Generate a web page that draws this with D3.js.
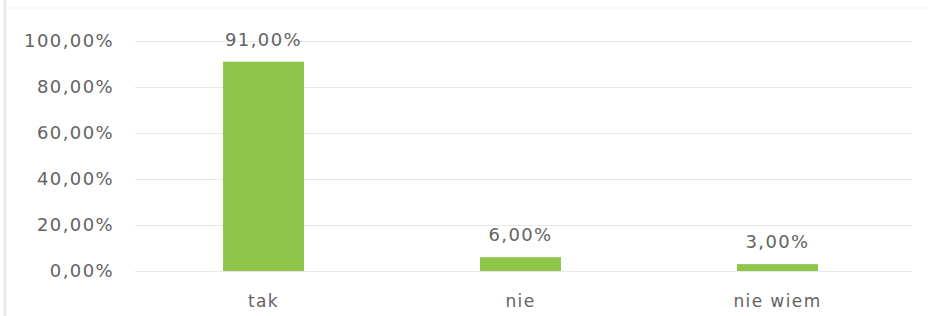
<!DOCTYPE html>
<html>
<head>
<meta charset="utf-8">
<script src="https://cdn.jsdelivr.net/npm/d3@7"></script>
<style>
  body { margin: 0; background: #fff; }
  svg text { font-family: "DejaVu Sans", sans-serif; fill: #636363; letter-spacing: 1.4px; }
</style>
</head>
<body>
<svg width="928" height="316"></svg>
<script>
// Chart data
const categories = ["tak", "nie", "nie wiem"];
const values = [91, 6, 3];
const tickValues = [0, 20, 40, 60, 80, 100];

const fmt = v => d3.format(".2f")(v).replace(".", ",") + "%";

// Dimensions
const margin = { top: 41, right: 16, bottom: 45, left: 135 };
const width = 912 - margin.left;
const height = 271 - margin.top;

const root = d3.select("svg");

// frame lines (left edge, top edge)
root.append("line")
    .attr("x1", 5).attr("x2", 5).attr("y1", 0).attr("y2", 316)
    .attr("stroke", "#e2e9ef").attr("stroke-width", 3);
root.append("line")
    .attr("x1", 6).attr("x2", 928).attr("y1", 8).attr("y2", 8)
    .attr("stroke", "#f1f1f1").attr("stroke-width", 1);

const svg = root.append("g")
    .attr("transform", `translate(${margin.left},${margin.top})`);

// Scales
const x = d3.scaleBand()
    .domain(categories)
    .range([0, 771])
    .paddingInner(0.685)
    .paddingOuter(0.3425);

const y = d3.scaleLinear()
    .domain([0, 100])
    .range([height, 0]);

// Gridlines + y labels
const yAxis = svg.append("g")
    .call(d3.axisLeft(y).tickValues(tickValues).tickSize(-width).tickFormat(fmt).tickPadding(21));
yAxis.select(".domain").remove();
yAxis.selectAll(".tick line").attr("stroke", "#e8e8e8");
yAxis.selectAll(".tick text").attr("font-size", 18).attr("fill", "#636363");

// Bars
svg.selectAll(".bar")
    .data(values)
    .enter()
    .append("rect")
    .attr("class", "bar")
    .attr("x", (d, i) => x(categories[i]))
    .attr("y", d => y(d))
    .attr("width", x.bandwidth())
    .attr("height", d => height - y(d))
    .attr("fill", "#8fc64a");

// Value labels
svg.selectAll(".val")
    .data(values)
    .enter()
    .append("text")
    .attr("x", (d, i) => x(categories[i]) + x.bandwidth() / 2)
    .attr("y", d => y(d) - 16)
    .attr("text-anchor", "middle")
    .attr("font-size", 18)
    .text(d => fmt(d));

// Category labels
svg.selectAll(".cat")
    .data(categories)
    .enter()
    .append("text")
    .attr("x", d => x(d) + x.bandwidth() / 2)
    .attr("y", height + 36)
    .attr("text-anchor", "middle")
    .attr("font-size", 17)
    .text(d => d);
</script>
</body>
</html>
